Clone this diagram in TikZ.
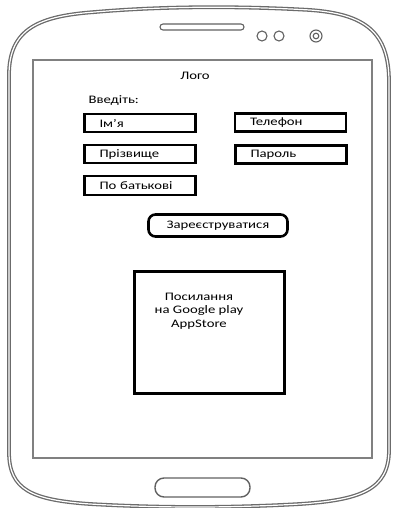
\documentclass[tikz,border=0pt]{standalone}
\usepackage{fontspec}
\setmainfont{Carlito}[FakeStretch=1.28]
\begin{document}
\begin{tikzpicture}[x=1pt,y=-1pt,
  body/.style={draw=black!58, line width=1.3pt, double=white, double distance=1.2pt},
  hw/.style={draw=black!62, line width=1.1pt},
  screenline/.style={draw=black!50, line width=1.1pt},
  txt/.style={font=\fontsize{11.5}{13.5}\selectfont, text=black},
  field/.style={txt, draw=black, line width=2.6pt, rectangle, minimum height=18pt,
    inner xsep=15pt, inner ysep=0pt, text width=81pt, align=left},
  btn/.style={txt, draw=black, line width=2.6pt, rectangle, rounded corners=7pt,
    minimum width=139pt, minimum height=22pt},
  linkbox/.style={draw=black, line width=3pt, rectangle, minimum width=150pt, minimum height=122pt}
]
\useasboundingbox (0,0) rectangle (392,508);

% phone body
\draw[body] (9,75) .. controls (9,28) and (40,16) .. (95,12)
  .. controls (165,6) and (240,6) .. (310,10)
  .. controls (365,14) and (389,32) .. (389,82)
  -- (389,450)
  .. controls (389,490) and (360,500) .. (300,504)
  .. controls (230,508) and (160,508) .. (90,504)
  .. controls (32,500) and (9,490) .. (9,452) -- cycle;

% speaker, sensors, camera
\draw[hw, rounded corners=3pt] (160,24) rectangle (244,30);
\draw[hw] (262,36) circle (5);
\draw[hw] (279,36) circle (5);
\draw[hw] (316,36) circle (6);
\draw[hw] (316,36) circle (2.8);

% screen
\draw[screenline] (33,60) rectangle (372,458);

% home button
\draw[hw, line width=1.4pt, rounded corners=9pt] (155,478) rectangle (250,497);

% content
\node[txt] (logo) at (195,76) {Лого};
\node[txt, anchor=west] (enter) at (85,100) {Введіть:};

\node[field] (name) at (140,123) {Ім'я};
\node[field] (phone) at (290.5,122.5) {Телефон};
\node[field] (surname) at (140,154) {Прізвище};
\node[field] (password) at (291,154.5) {Пароль};
\node[field, minimum height=19pt] (patronymic) at (140,185.5) {По батькові};

\node[btn] (register) at (218,225.5) {Зареєструватися};

\node[linkbox] (links) at (209.5,332.5) {};
\node[txt, align=center] (linktext) at (199,311) {Посилання\\на Google play\\AppStore};
\end{tikzpicture}
\end{document}
